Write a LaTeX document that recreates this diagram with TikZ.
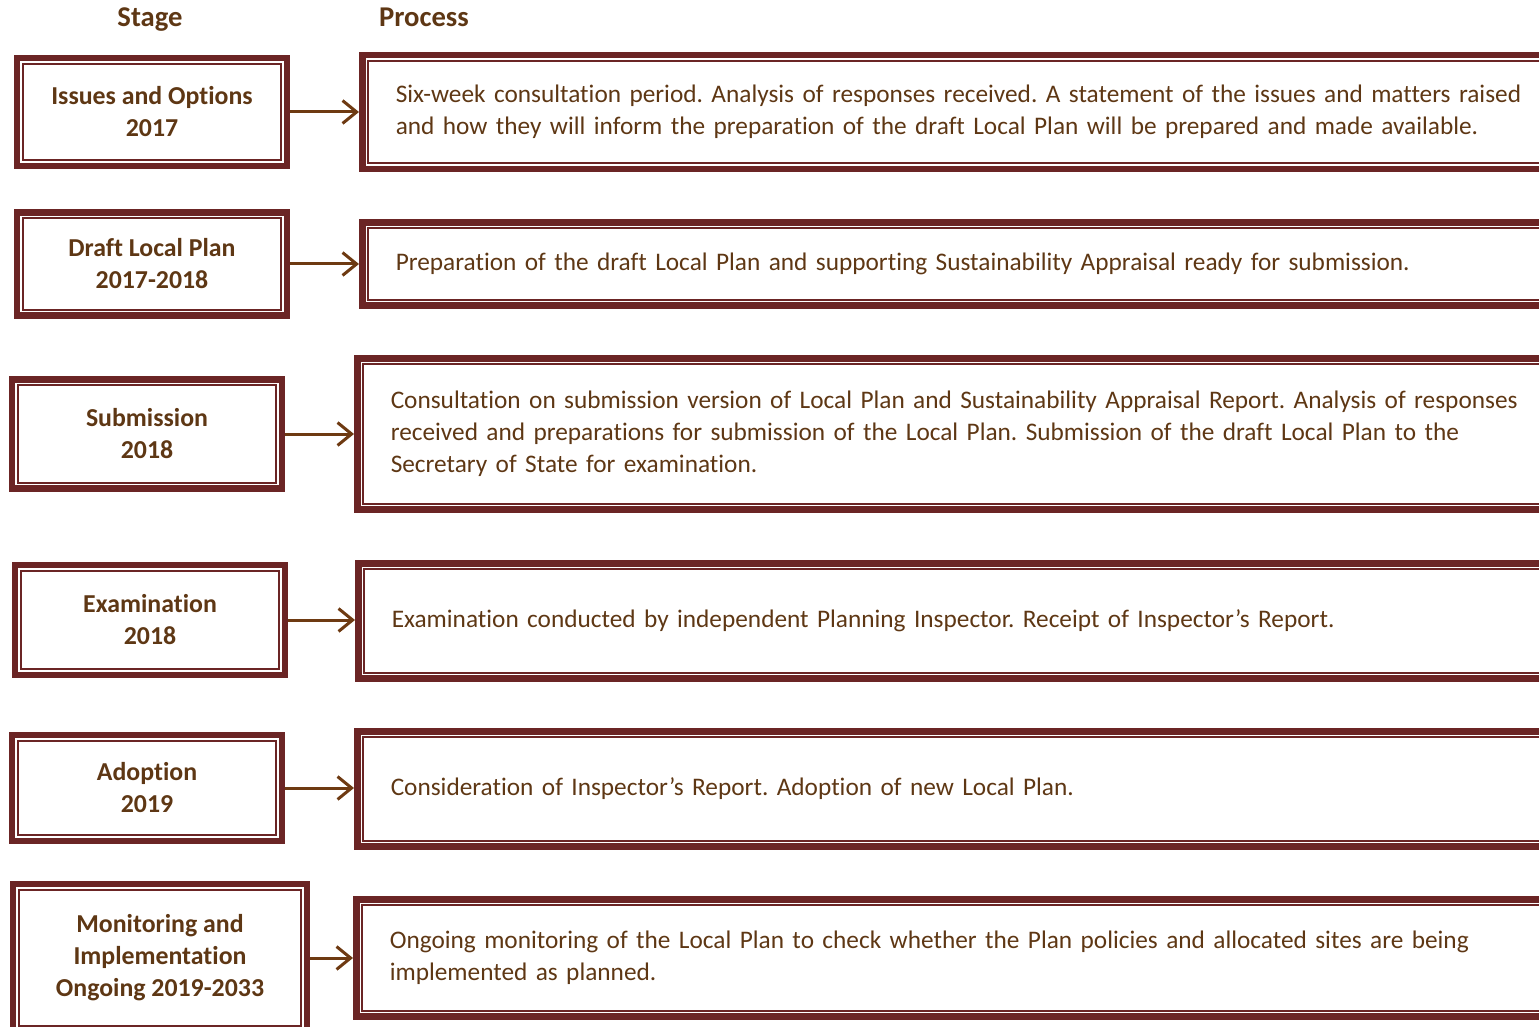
\documentclass[tikz,border=0pt]{standalone}
\usepackage{fontspec}
\setmainfont{Carlito}[Ligatures=NoCommon]
\usetikzlibrary{arrows.meta}

\definecolor{frame}{RGB}{107,37,37}
\definecolor{ink}{RGB}{94,55,20}
\definecolor{arrowc}{RGB}{110,58,18}
\newcommand{\px}{0.02cm}
\frenchspacing

\tikzset{
    stagebox/.style={draw=frame, line width=6.5*\px, align=center, text=ink,
        font=\fontsize{14.7pt}{18.2pt}\selectfont\bfseries, inner sep=0pt},
    procbox/.style={draw=frame, line width=6.5*\px, anchor=west, align=left, text=ink,
        font=\fontsize{14.4pt}{18.2pt}\selectfont, inner xsep=33.5*\px, text width=1190*\px},
    thinframe/.style={draw=frame, line width=1.6*\px},
    flow/.style={draw=arrowc, line width=3*\px, -{Straight Barb[length=8pt, width=13pt]}},
    header/.style={text=ink, font=\fontsize{16.3pt}{19pt}\selectfont\bfseries, anchor=base},
}

\begin{document}
\begin{tikzpicture}[x=\px, y=-\px]
    \useasboundingbox (0,0) rectangle (1539,1027);
    \clip (0,0) rectangle (1539,1027);

    \node[header] (hstage) at (150,27) {Stage};
    \node[header] (hproc) at (424,27) {Process};

    % stages
    \node[stagebox, minimum width=270*\px, minimum height=108*\px] (s1) at (152,112) {Issues and Options\\2017};
    \node[stagebox, minimum width=270*\px, minimum height=103*\px] (s2) at (152,264) {Draft Local Plan\\2017-2018};
    \node[stagebox, minimum width=270*\px, minimum height=109*\px] (s3) at (147,434) {Submission\\2018};
    \node[stagebox, minimum width=270*\px, minimum height=110*\px] (s4) at (150,620) {Examination\\2018};
    \node[stagebox, minimum width=270*\px, minimum height=106*\px] (s5) at (147,788) {Adoption\\2019};
    \node[stagebox, minimum width=294*\px, minimum height=148*\px] (s6) at (160,958) {Monitoring and\\Implementation\\Ongoing 2019-2033};

    % processes
    \node[procbox, minimum height=114*\px] (p1) at (359,112) {Six-week consultation period. Analysis of responses received. A statement of the issues and matters raised\\and how they will inform the preparation of the draft Local Plan will be prepared and made available.};
    \node[procbox, minimum height=83*\px] (p2) at (359,264) {Preparation of the draft Local Plan and supporting Sustainability Appraisal ready for submission.};
    \node[procbox, minimum height=151*\px] (p3) at (354,434) {Consultation on submission version of Local Plan and Sustainability Appraisal Report. Analysis of responses\\received and preparations for submission of the Local Plan. Submission of the draft Local Plan to the\\Secretary of State for examination.};
    \node[procbox, minimum height=115*\px] (p4) at (355,621) {Examination conducted by independent Planning Inspector. Receipt of Inspector’s Report.};
    \node[procbox, minimum height=115*\px] (p5) at (354,789) {Consideration of Inspector’s Report. Adoption of new Local Plan.};
    \node[procbox, minimum height=117*\px] (p6) at (353,958) {Ongoing monitoring of the Local Plan to check whether the Plan policies and allocated sites are being\\implemented as planned.};

    % inner thin frames
    \foreach \n in {s1,s2,s3,s4,s5,s6,p1,p2,p3,p4,p5,p6}
        \draw[thinframe] ([xshift=9*\px, yshift=-9*\px]\n.north west) rectangle ([xshift=-9*\px, yshift=9*\px]\n.south east);

    % arrows
    \foreach \i in {1,...,6}
        \draw[flow] (s\i.east) -- (s\i.east -| p\i.west);
\end{tikzpicture}
\end{document}
